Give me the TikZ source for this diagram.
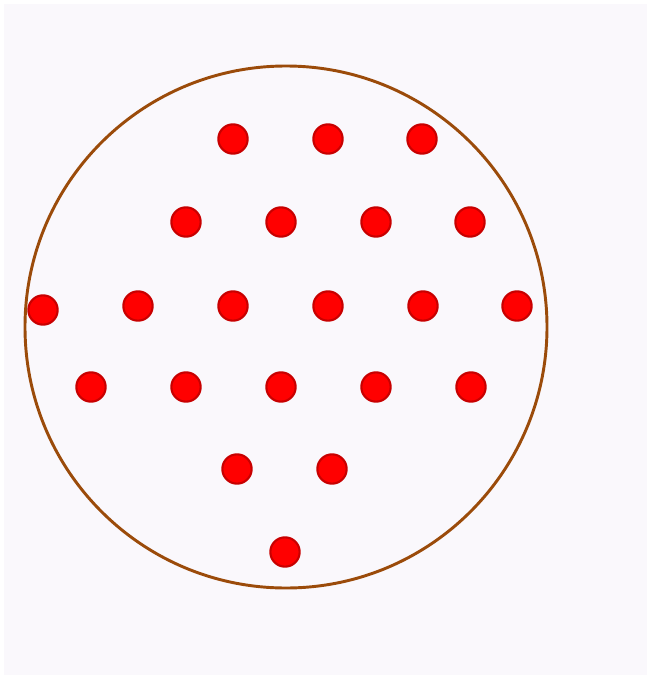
\documentclass[tikz,border=0pt]{standalone}
\definecolor{dotfill}{RGB}{255,0,0}
\definecolor{dotedge}{RGB}{200,0,0}
\definecolor{ringcol}{RGB}{155,75,10}
\definecolor{bgcol}{RGB}{250,248,252}
\begin{document}
\begin{tikzpicture}[x=0.75pt,y=-0.75pt,
  dot/.style={circle,fill=dotfill,draw=dotedge,line width=1.6pt,minimum size=22pt,inner sep=0pt},
  ring/.style={draw=ringcol,line width=2.2pt}]
\fill[white] (0,0) rectangle (647,675);
\useasboundingbox (0,0) rectangle (647,675);
\fill[bgcol] (4,4) rectangle (647,675);
\draw[ring] (286,327) circle[radius=195.75pt];
\foreach \x/\y/\n in {233/139/a1,328/139/a2,422/139/a3,
  186/222/b1,281/222/b2,376/222/b3,470/222/b4,
  43/310/c0,138/306/c1,233/306/c2,328/306/c3,423/306/c4,517/306/c5,
  91/387/d1,186/387/d2,281/387/d3,376/387/d4,471/387/d5,
  237/469/e1,332/469/e2,285/552/f1}
  \node[dot] (\n) at (\x,\y) {};
\end{tikzpicture}
\end{document}
